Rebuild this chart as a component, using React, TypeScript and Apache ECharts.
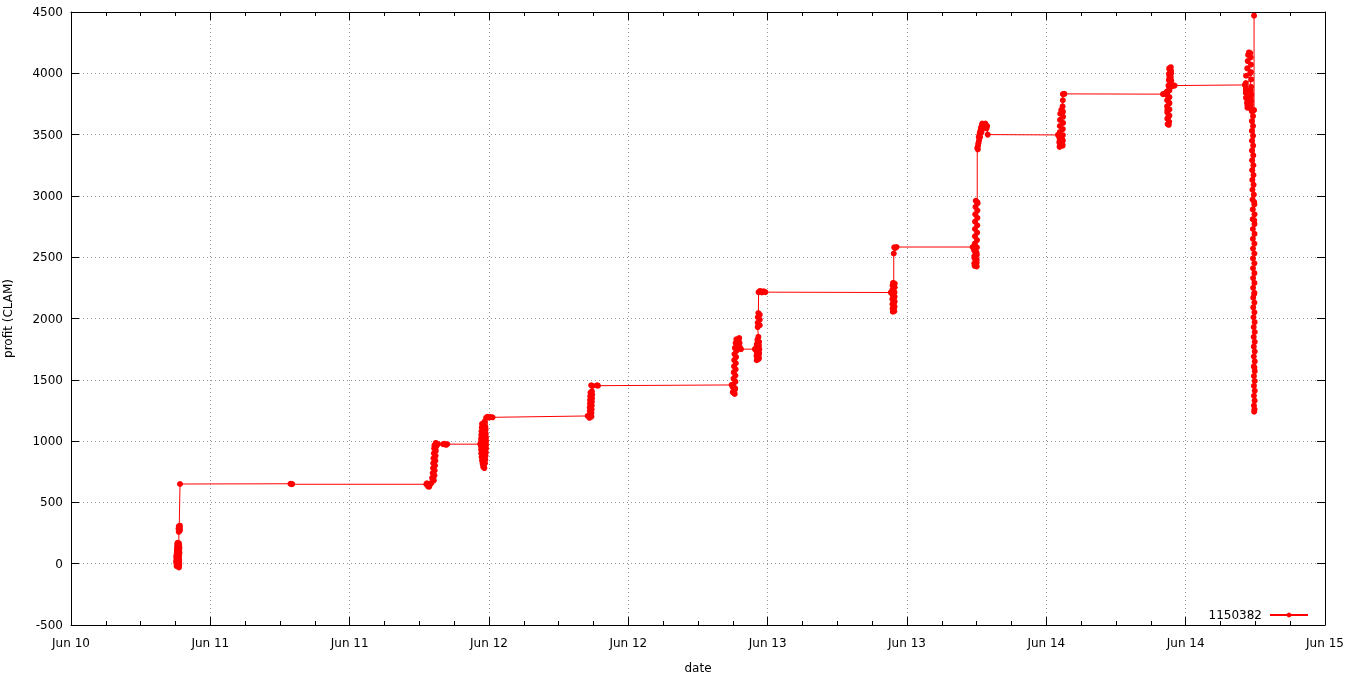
import React, { useEffect, useRef } from "react";
import * as echarts from "echarts";

// x values are hours after Jun 10 12:00
const tickLabels = ["Jun 10", "Jun 11", "Jun 11", "Jun 12", "Jun 12", "Jun 13", "Jun 13", "Jun 14", "Jun 14", "Jun 15"];
const seriesName = "1150382";

const segment1: [number, number][] = [
  [9.1, -20], [9.3, -30], [9.08, 0], [9.32, -10], [9.05, 20], [9.32, 10], [9.08, 40], [9.32, 30],
  [9.06, 60], [9.3, 50], [9.1, 80], [9.32, 70], [9.12, 100], [9.34, 90], [9.12, 120], [9.32, 110],
  [9.14, 140], [9.34, 130], [9.15, 160], [9.32, 150], [9.18, 170], [9.3, 165], [9.28, 260], [9.38, 270],
  [9.26, 285], [9.38, 290], [9.28, 305], [9.38, 310], [9.32, 295], [9.39, 650],
  [18.9, 652], [19.0, 648], [19.05, 650],
];
const segment2: [number, number][] = [
  [30.6, 648], [30.75, 630], [30.65, 655], [30.85, 628], [30.95, 650], [30.8, 640], [31.05, 660],
  [31.25, 680], [31.1, 700], [31.3, 720], [31.15, 740], [31.32, 760], [31.18, 780], [31.35, 800],
  [31.2, 820], [31.38, 840], [31.22, 860], [31.4, 880], [31.25, 900], [31.42, 920], [31.28, 940],
  [31.45, 955], [31.3, 965], [31.42, 985], [31.6, 975], [32.05, 975], [32.3, 970], [32.15, 978], [32.4, 975],
];
const segment3: [number, number][] = [
  [35.25, 975], [35.35, 1000], [35.4, 1140], [35.65, 1150], [35.38, 1110], [35.68, 1120], [35.36, 1080],
  [35.7, 1090], [35.34, 1050], [35.72, 1060], [35.32, 1020], [35.74, 1030], [35.3, 990], [35.75, 1000],
  [35.3, 960], [35.75, 970], [35.32, 930], [35.74, 940], [35.34, 900], [35.72, 910], [35.36, 870],
  [35.7, 880], [35.4, 840], [35.68, 850], [35.45, 815], [35.65, 820], [35.5, 790], [35.6, 780],
  [35.55, 800], [35.68, 900], [35.45, 1000], [35.7, 1100], [35.62, 1160], [35.75, 1190], [35.85, 1198],
  [36.0, 1192], [36.1, 1197], [36.3, 1194],
];
const segment4: [number, number][] = [
  [44.5, 1205], [44.65, 1190], [44.82, 1200], [44.66, 1215], [44.82, 1230], [44.68, 1245], [44.84, 1260],
  [44.68, 1275], [44.85, 1290], [44.7, 1305], [44.86, 1320], [44.7, 1335], [44.87, 1350], [44.72, 1365],
  [44.88, 1380], [44.74, 1395], [44.86, 1405], [44.8, 1455], [44.92, 1450], [45.3, 1455], [45.38, 1452],
];
const segment5: [number, number][] = [
  [56.9, 1458], [57.0, 1440], [57.18, 1420], [57.0, 1400], [57.16, 1385], [57.04, 1395], [57.2, 1430],
  [57.04, 1460], [57.22, 1485], [57.06, 1510], [57.22, 1535], [57.08, 1560], [57.24, 1585], [57.1, 1610],
  [57.26, 1635], [57.12, 1660], [57.28, 1685], [57.14, 1710], [57.3, 1735], [57.18, 1760], [57.4, 1780],
  [57.24, 1800], [57.5, 1815], [57.3, 1830], [57.55, 1840], [57.38, 1820], [57.58, 1800], [57.42, 1780],
  [57.6, 1765], [57.4, 1750], [57.7, 1750], [58.9, 1750],
  [59.02, 1760], [59.25, 1780], [59.04, 1740], [59.26, 1720], [59.04, 1700], [59.25, 1680], [59.06, 1660],
  [59.22, 1670], [59.06, 1690], [59.26, 1710], [59.05, 1730], [59.28, 1750], [59.06, 1790], [59.26, 1810],
  [59.12, 1825], [59.2, 1850], [59.14, 1930], [59.32, 1945], [59.14, 1965], [59.32, 1990], [59.15, 2010],
  [59.32, 2030], [59.2, 2045], [59.22, 2215], [59.35, 2225], [59.5, 2212], [59.65, 2222], [59.8, 2215],
];
const segment6: [number, number][] = [
  [70.6, 2212], [70.75, 2200], [70.92, 2180], [70.75, 2160], [70.92, 2140], [70.76, 2120], [70.92, 2100],
  [70.76, 2080], [70.9, 2060], [70.78, 2055], [70.9, 2090], [70.76, 2115], [70.92, 2135], [70.76, 2155],
  [70.92, 2175], [70.75, 2195], [70.92, 2215], [70.75, 2235], [70.94, 2255], [70.76, 2270], [70.94, 2285],
  [70.8, 2290], [70.86, 2270], [70.86, 2530], [70.9, 2580], [71.0, 2575], [71.1, 2583],
];
const segment7: [number, number][] = [
  [77.65, 2583], [77.78, 2560], [77.98, 2540], [77.8, 2510], [78.0, 2480], [77.8, 2450], [78.0, 2425],
  [77.82, 2430], [78.0, 2455], [77.82, 2490], [78.02, 2520], [77.82, 2550], [78.02, 2580], [77.84, 2610],
  [78.03, 2640], [77.85, 2670], [78.04, 2700], [77.85, 2730], [78.05, 2760], [77.86, 2790], [78.06, 2820],
  [77.88, 2850], [78.06, 2880], [77.9, 2910], [78.08, 2940], [77.92, 2960], [78.05, 2950], [78.05, 3390],
  [78.12, 3410], [78.1, 3380], [78.15, 3430], [78.2, 3450], [78.18, 3480], [78.25, 3500], [78.3, 3480],
  [78.28, 3520], [78.35, 3540], [78.4, 3520], [78.38, 3560], [78.45, 3575], [78.5, 3560], [78.48, 3590],
  [78.55, 3580], [78.6, 3550], [78.65, 3585], [78.7, 3560], [78.75, 3590], [78.8, 3575], [78.85, 3550],
  [78.9, 3570], [78.95, 3500],
];
const segment8: [number, number][] = [
  [85.0, 3497], [85.12, 3480], [85.38, 3460], [85.12, 3440], [85.38, 3420], [85.14, 3400], [85.4, 3410],
  [85.15, 3430], [85.42, 3450], [85.15, 3470], [85.42, 3495], [85.16, 3520], [85.42, 3545], [85.16, 3570],
  [85.44, 3595], [85.18, 3620], [85.44, 3645], [85.2, 3670], [85.42, 3690], [85.28, 3700], [85.4, 3680],
  [85.4, 3730], [85.42, 3780], [85.43, 3830], [85.55, 3832],
];
const segment9: [number, number][] = [
  [94.05, 3830], [94.2, 3835], [94.38, 3850], [94.6, 3860], [94.4, 3830], [94.6, 3805], [94.4, 3780],
  [94.6, 3755], [94.4, 3730], [94.6, 3705], [94.42, 3680], [94.6, 3655], [94.42, 3630], [94.58, 3605],
  [94.45, 3585], [94.55, 3580], [94.5, 3640], [94.42, 3700], [94.58, 3760], [94.42, 3820], [94.58, 3880],
  [94.52, 3900], [94.72, 3920], [94.55, 3945], [94.72, 3970], [94.56, 3995], [94.74, 4020], [94.58, 4040],
  [94.72, 4050], [94.62, 4030], [94.75, 4000], [94.6, 3970], [94.76, 3940], [94.65, 3910], [94.85, 3895],
  [95.05, 3900],
];
const segment10: [number, number][] = [
  [101.1, 3905], [101.18, 3880], [101.6, 3860], [101.18, 3840], [101.62, 3820], [101.2, 3800],
  [101.62, 3780], [101.28, 3760], [101.62, 3740], [101.32, 3720], [101.6, 3710], [101.32, 3740],
  [101.64, 3770], [101.22, 3800], [101.64, 3830], [101.18, 3860], [101.64, 3890], [101.18, 3920],
  [101.64, 3950], [101.2, 3980], [101.62, 4010], [101.3, 4040], [101.62, 4070], [101.34, 4100],
  [101.6, 4130], [101.38, 4150], [101.56, 4165], [101.45, 4170], [101.55, 4000], [101.6, 3800],
  [101.7, 3690], [101.8, 3650], [101.7, 3610], [101.8, 3570], [101.7, 3530], [101.8, 3490],
  [101.71, 3450], [101.81, 3410], [101.71, 3370], [101.82, 3330], [101.72, 3290], [101.83, 3250],
  [101.73, 3210], [101.84, 3170], [101.74, 3130], [101.85, 3090], [101.75, 3050], [101.87, 3010],
  [101.76, 2970], [101.92, 2930], [101.78, 2890], [101.93, 2850], [101.78, 2810], [101.93, 2770],
  [101.79, 2730], [101.93, 2690], [101.79, 2650], [101.92, 2610], [101.8, 2570], [101.92, 2530],
  [101.8, 2490], [101.92, 2450], [101.8, 2410], [101.92, 2370], [101.81, 2330], [101.92, 2290],
  [101.81, 2250], [101.92, 2210], [101.82, 2170], [101.92, 2130], [101.82, 2090], [101.92, 2050],
  [101.84, 2010], [101.94, 1970], [101.86, 1930], [101.95, 1890], [101.86, 1850], [101.95, 1810],
  [101.87, 1770], [101.95, 1730], [101.87, 1690], [101.95, 1650], [101.87, 1610], [101.95, 1570],
  [101.88, 1530], [101.95, 1490], [101.88, 1450], [101.95, 1410], [101.88, 1370], [101.94, 1330],
  [101.88, 1290], [101.93, 1260], [101.9, 1240], [101.92, 1600], [101.9, 2200], [101.9, 2800],
  [101.9, 2950], [101.89, 3700], [101.89, 4470],
];

const profitData = [
  ...segment1, ...segment2, ...segment3, ...segment4, ...segment5,
  ...segment6, ...segment7, ...segment8, ...segment9, ...segment10,
];

const FONT = "DejaVu Sans";
const black = "#000";
const gridLine = { show: true, lineStyle: { color: "#999", width: 1, type: [1, 3] as number[] } };

export default function App() {
  const ref = useRef<HTMLDivElement>(null);
  useEffect(() => {
    if (!ref.current) return;
    const chart = echarts.init(ref.current, undefined, { renderer: "svg" });
    const xCommon = {
      type: "value" as const,
      min: 0,
      max: 108,
      interval: 12,
      axisLine: { show: true, onZero: false, lineStyle: { color: black, width: 1 } },
      axisTick: { show: true, inside: true, length: 8, lineStyle: { color: black } },
      minorTick: { show: true, splitNumber: 4, length: 4, lineStyle: { color: black } },
    };
    const yCommon = {
      type: "value" as const,
      min: -500,
      max: 4500,
      interval: 500,
      axisLine: { show: true, onZero: false, lineStyle: { color: black, width: 1 } },
      axisTick: { show: true, inside: true, length: 8, lineStyle: { color: black } },
    };
    chart.setOption({
      animation: false,
      textStyle: { fontFamily: FONT },
      grid: { left: 71, right: 21, top: 12, bottom: 53, containLabel: false, outerBoundsMode: "none" },
      legend: {
        data: [seriesName],
        right: 32,
        top: 604,
        align: "right",
        itemWidth: 38,
        itemHeight: 6,
        textStyle: { color: black, fontSize: 12, fontFamily: FONT, padding: [0, 3, 0, 0] },
      },
      xAxis: [
        {
          ...xCommon,
          position: "bottom",
          name: "date",
          nameLocation: "middle",
          nameGap: 37,
          nameTextStyle: { color: black, fontSize: 12, fontFamily: FONT },
          axisLabel: {
            color: black,
            fontSize: 12,
            fontFamily: FONT,
            margin: 12,
            formatter: (v: number) => tickLabels[Math.round(v / 12)] ?? "",
          },
          splitLine: gridLine,
        },
        {
          ...xCommon,
          position: "top",
          axisLabel: { show: false },
          splitLine: { show: false },
        },
      ],
      yAxis: [
        {
          ...yCommon,
          position: "left",
          name: "profit (CLAM)",
          nameLocation: "middle",
          nameRotate: 90,
          nameGap: 57,
          nameTextStyle: { color: black, fontSize: 12, fontFamily: FONT },
          axisLabel: { color: black, fontSize: 12, fontFamily: FONT, margin: 8, formatter: (v: number) => String(v) },
          splitLine: gridLine,
        },
        {
          ...yCommon,
          position: "right",
          axisLabel: { show: false },
          splitLine: { show: false },
        },
      ],
      series: [
        {
          name: seriesName,
          type: "line",
          xAxisIndex: 0,
          yAxisIndex: 0,
          data: profitData,
          symbol: "circle",
          symbolSize: 6,
          showAllSymbol: true,
          lineStyle: { color: "#ff0000", width: 1 },
          itemStyle: { color: "#ff0000" },
          emphasis: { disabled: true },
        },
      ],
    });
    return () => chart.dispose();
  }, []);
  return <div ref={ref} style={{ position: "fixed", left: 0, top: 0, width: 1346, height: 678 }} />;
}
